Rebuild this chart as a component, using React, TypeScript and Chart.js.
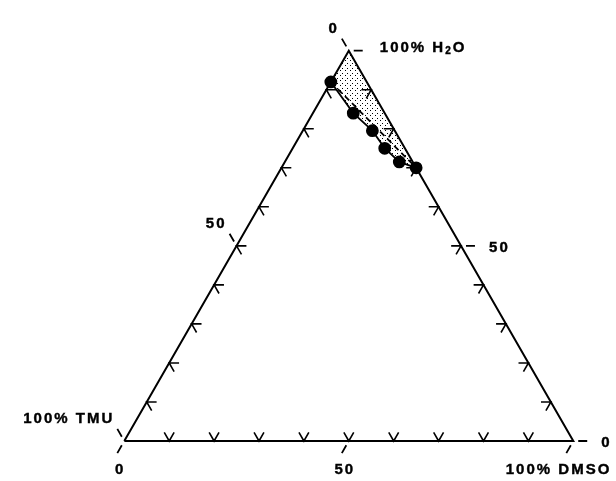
import React, { useEffect, useRef } from 'react';
import { Chart, registerables } from 'chart.js';

Chart.register(...registerables);

// Measured boundary points (percent composition)
const curveH2O = [92, 84, 79.5, 75, 71.5, 70];
const curveDMSO = [0, 9, 15.5, 20.5, 25.5, 30];
const curveTMU = [8, 7, 5, 4.5, 3, 0];

// Dashed tie line (percent composition)
const dashedH2O = [92, 70];
const dashedDMSO = [0, 30];
const dashedTMU = [8, 0];

// Axis ticks and labels
const tickValues = [10, 20, 30, 40, 50, 60, 70, 80, 90];
const labelValues = [0, 50, 100];
const tmuLabels = ['0', '50', '100% TMU'];
const dmsoLabels = ['0', '50', '100% DMSO'];
const h2oLabels = ['0', '50', '100% H₂O'];

const SQ = Math.sqrt(3) / 2;
type P = { x: number | null; y: number | null };

function tern(t: number, d: number, h: number): { x: number; y: number } {
  const s = t + d + h;
  return { x: (d + 0.5 * h) / s, y: (SQ * h) / s };
}
const leftPt = (v: number) => tern(v, 0, 100 - v); // TMU axis
const bottomPt = (v: number) => tern(100 - v, v, 0); // DMSO axis
const rightPt = (v: number) => tern(0, 100 - v, v); // H2O axis

const GAP: P = { x: null, y: null };
const ARM = 0.022;
const OUT0 = 0.011;
const OUT1 = 0.031;

function chevron(p: { x: number; y: number }, a: [number, number], b: [number, number]): P[] {
  return [
    { x: p.x + a[0] * ARM, y: p.y + a[1] * ARM },
    { x: p.x, y: p.y },
    { x: p.x + b[0] * ARM, y: p.y + b[1] * ARM },
    GAP,
  ];
}
function dash(p: { x: number; y: number }, dir: [number, number]): P[] {
  return [
    { x: p.x + dir[0] * OUT0, y: p.y + dir[1] * OUT0 },
    { x: p.x + dir[0] * OUT1, y: p.y + dir[1] * OUT1 },
    GAP,
  ];
}

export default function App() {
  const ref = useRef<HTMLCanvasElement | null>(null);

  useEffect(() => {
    const canvas = ref.current;
    if (!canvas) return;

    // stipple pattern
    const pc = document.createElement('canvas');
    pc.width = 5;
    pc.height = 5;
    const pctx = pc.getContext('2d')!;
    pctx.fillStyle = '#000';
    pctx.fillRect(0, 0, 1, 1);
    pctx.fillRect(2, 3, 1, 1);
    const pattern = canvas.getContext('2d')!.createPattern(pc, 'repeat');

    const curve = curveH2O.map((h, i) => tern(curveTMU[i], curveDMSO[i], h));
    const dashed = dashedH2O.map((h, i) => tern(dashedTMU[i], dashedDMSO[i], h));
    const apex = tern(0, 0, 100);
    const shade = [apex, ...curve.slice().reverse(), apex];
    const tri = [tern(100, 0, 0), tern(0, 100, 0), apex, tern(100, 0, 0)];

    const ticks: P[] = [];
    tickValues.forEach((v) => {
      ticks.push(...chevron(leftPt(v), [1, 0], [0.5, -SQ]));
      ticks.push(...chevron(bottomPt(v), [-0.5, SQ], [0.5, SQ]));
      ticks.push(...chevron(rightPt(v), [-1, 0], [-0.5, -SQ]));
    });
    const outer: P[] = [];
    labelValues.forEach((v) => {
      outer.push(...dash(leftPt(v), [-0.5, SQ]));
      outer.push(...dash(bottomPt(v), [-0.5, -SQ]));
      outer.push(...dash(rightPt(v), [1, 0]));
    });

    const labelPlugin = {
      id: 'ternLabels',
      afterDatasetsDraw(chart: any) {
        const ctx = chart.ctx as CanvasRenderingContext2D;
        const xs = chart.scales.x;
        const ys = chart.scales.y;
        const px = (p: { x: number; y: number }) => ({ x: xs.getPixelForValue(p.x), y: ys.getPixelForValue(p.y) });
        ctx.save();
        ctx.fillStyle = '#000';
        ctx.strokeStyle = '#000';
        ctx.lineWidth = 0.4;
        ctx.textBaseline = 'middle';
        ctx.textAlign = 'left';
        const big = 'bold 15px "Liberation Sans", Arial, sans-serif';
        const small = 'bold 10px "Liberation Sans", Arial, sans-serif';
        (ctx as any).letterSpacing = '2px';
        const parts = (text: string) => {
          const segs = text.split('₂');
          const out: { s: string; sub: boolean }[] = [];
          segs.forEach((s, i) => {
            if (i > 0) out.push({ s: '2', sub: true });
            if (s) out.push({ s, sub: false });
          });
          return out;
        };
        const width = (text: string) =>
          parts(text).reduce((w, p) => {
            ctx.font = p.sub ? small : big;
            return w + ctx.measureText(p.s).width;
          }, 0);
        const draw = (text: string, x: number, y: number, align: 'left' | 'right' | 'center') => {
          const w = width(text);
          let cx = align === 'left' ? x : align === 'right' ? x - w : x - w / 2;
          parts(text).forEach((p) => {
            ctx.font = p.sub ? small : big;
            const yy = p.sub ? y + 4 : y;
            ctx.fillText(p.s, cx, yy);
            ctx.strokeText(p.s, cx, yy);
            cx += ctx.measureText(p.s).width;
          });
        };
        labelValues.forEach((v, i) => {
          const l = px(leftPt(v));
          draw(tmuLabels[i], l.x - 10, l.y - 22, 'right');
          const b = px(bottomPt(v));
          if (i === labelValues.length - 1) draw(dmsoLabels[i], b.x + 38, b.y + 29, 'right');
          else draw(dmsoLabels[i], b.x - 4, b.y + 29, 'center');
          const r = px(rightPt(v));
          if (i === labelValues.length - 1) draw(h2oLabels[i], r.x + 31, r.y - 3, 'left');
          else draw(h2oLabels[i], r.x + 28, r.y + 2, 'left');
        });
        ctx.restore();
      },
    };

    const chart = new Chart(canvas, {
      type: 'scatter',
      data: {
        datasets: [
          {
            data: shade,
            showLine: true,
            fill: 'shape',
            backgroundColor: pattern as any,
            borderWidth: 0,
            pointRadius: 0,
          },
          {
            data: tri,
            showLine: true,
            fill: false,
            borderColor: '#000',
            borderWidth: 2,
            pointRadius: 0,
          },
          {
            data: ticks as any,
            showLine: true,
            spanGaps: false,
            fill: false,
            borderColor: '#000',
            borderWidth: 1.6,
            pointRadius: 0,
          },
          {
            data: outer as any,
            showLine: true,
            spanGaps: false,
            fill: false,
            borderColor: '#000',
            borderWidth: 1.8,
            pointRadius: 0,
          },
          {
            data: dashed,
            showLine: true,
            fill: false,
            borderColor: '#000',
            borderWidth: 1.8,
            borderDash: [6, 4],
            pointRadius: 0,
          },
          {
            data: curve,
            showLine: true,
            fill: false,
            borderColor: '#000',
            borderWidth: 1.8,
            pointRadius: 5.5,
            pointBackgroundColor: '#000',
            pointBorderColor: '#000',
          },
        ],
      },
      options: {
        animation: false,
        responsive: false,
        devicePixelRatio: 1,
        events: [],
        layout: { padding: 0, autoPadding: false },
        plugins: { legend: { display: false }, tooltip: { enabled: false } },
        scales: {
          x: { type: 'linear', display: false, min: -0.2768, max: 1.0951, bounds: 'data' },
          y: { type: 'linear', display: false, min: -0.0887, max: 0.9785, bounds: 'data' },
        },
      },
      plugins: [labelPlugin],
    });
    return () => chart.destroy();
  }, []);

  return (
    <div style={{ position: 'absolute', left: 0, top: 0, width: 616, height: 481, background: '#fff' }}>
      <canvas ref={ref} width={616} height={481} style={{ width: 616, height: 481, display: 'block' }} />
    </div>
  );
}
